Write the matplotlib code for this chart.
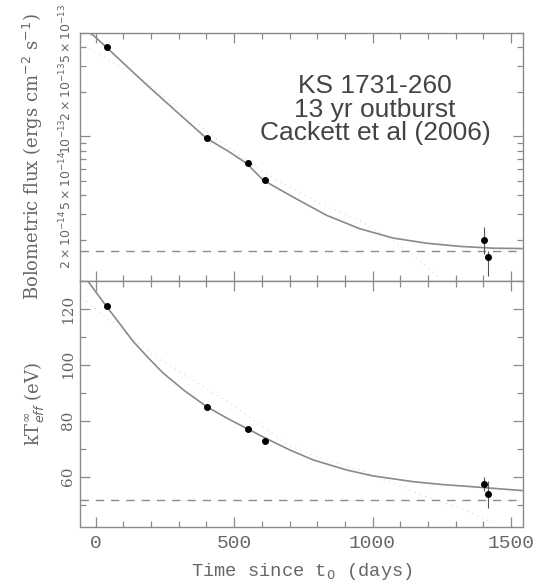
import numpy as np
import matplotlib
matplotlib.use("Agg")
import matplotlib.pyplot as plt
from matplotlib.ticker import FixedLocator, FuncFormatter, MultipleLocator

# observed points (days since t0)
days = [39, 402, 551, 611, 1401, 1418]
flux = [4.03e-13, 9.8e-14, 6.56e-14, 5.1e-14, 1.99e-14, 1.53e-14]
flux_lo = [0, 0, 0, 0, 0.40e-14, 0.40e-14]
flux_hi = [0, 0, 0, 0, 0.44e-14, 0.15e-14]
kt = [120.9, 85.0, 77.0, 72.6, 57.4, 53.7]
kt_err = [0, 0, 0, 0, 2.4, 4.8]

# fitted curves
fit_days_f = [-27, -10, 39, 110, 183, 290, 400, 480, 545, 605, 713, 834, 954,
              1074, 1196, 1316, 1436, 1544]
fit_flux = [5.05e-13, 4.85e-13, 4.0e-13, 3.0e-13, 2.24e-13, 1.48e-13, 9.7e-14,
            7.9e-14, 6.56e-14, 5.05e-14, 3.88e-14, 2.92e-14, 2.37e-14,
            2.05e-14, 1.89e-14, 1.80e-14, 1.75e-14, 1.74e-14]
fit_days_t = [-28, 39, 90, 135, 190, 243, 320, 400, 480, 545, 605, 700, 785,
              906, 1000, 1147, 1250, 1388, 1544]
fit_kt = [129.9, 120.9, 114.3, 108.4, 102.5, 97.1, 90.8, 85.1, 80.6, 77.3,
          74.2, 69.6, 66.0, 62.4, 60.3, 58.2, 57.2, 56.2, 55.0]

dot_days_f = [-40, 200, 400, 600, 810, 954, 1074, 1171, 1243]
dot_flux = [4.1e-13, 2.2e-13, 1.08e-13, 5.8e-14, 3.5e-14, 2.69e-14, 1.97e-14, 1.44e-14, 1.1e-14]
dot_days_t = [-34, 200, 484, 700, 846, 954, 1195, 1316, 1435]
dot_kt = [122.7, 104.0, 86.3, 71.0, 65.4, 62.4, 52.8, 48.8, 43.4]

flux_base = 1.68e-14
kt_base = 51.6

flux_ticks = [2e-14, 5e-14, 2e-13, 5e-13]
flux_labels = [r'$2\times10^{-14}$', r'$5\times10^{-14}$', r'$2\times10^{-13}$', r'$5\times10^{-13}$']

GRAY = '#8a8a8a'
TXT = '#666666'

fig = plt.figure(figsize=(5.33, 5.86), dpi=100)
ax1 = fig.add_axes([0.150, 0.5205, 0.831, 0.4232])
ax2 = fig.add_axes([0.150, 0.1007, 0.831, 0.4198], sharex=ax1)

for ax in (ax1, ax2):
    for s in ax.spines.values():
        s.set_color(GRAY)
        s.set_linewidth(1.0)
    ax.tick_params(which='both', direction='in', top=True, right=True,
                   color=GRAY, labelcolor=TXT)
    ax.tick_params(which='major', length=7, width=0.9)
    ax.tick_params(which='minor', length=4, width=0.9)

# top panel: flux
ax1.plot(dot_days_f, dot_flux, ls=(0, (1, 4)), color='#d2dade', lw=0.8)
ax1.plot(fit_days_f, fit_flux, color=GRAY, lw=1.2)
ax1.axhline(flux_base, color=GRAY, ls=(0, (6, 5)), lw=1.0)
ax1.errorbar(days, flux, yerr=[flux_lo, flux_hi], fmt='o', color='black',
             ms=4, ecolor='#555555', elinewidth=0.8, capsize=0)
ax1.set_yscale('log')
ax1.set_ylim(1.05e-14, 5e-13)
ax1.yaxis.set_major_locator(FixedLocator([1e-13]))
ax1.yaxis.set_major_formatter(FuncFormatter(lambda v, p: r'$10^{-13}$'))
ax1.yaxis.set_minor_locator(FixedLocator([k * 1e-14 for k in range(2, 10)] +
                                         [k * 1e-13 for k in range(2, 6)]))


def minor_lab(v, p):
    for t, l in zip(flux_ticks, flux_labels):
        if abs(v - t) / t < 1e-6:
            return l
    return ''


ax1.yaxis.set_minor_formatter(FuncFormatter(minor_lab))
ax1.tick_params(axis='x', labelbottom=False)
ax1.tick_params(axis='y', which='both', pad=4)
for lab in ax1.get_yticklabels(which='both'):
    lab.set_rotation(90)
    lab.set_va('center')
    lab.set_fontfamily('DejaVu Serif')
    lab.set_fontsize(9)
ax1.set_ylabel(r'Bolometric flux (ergs cm$^{-2}$ s$^{-1}$)', family='DejaVu Serif',
               fontsize=13, color=TXT, labelpad=9)

ax1.text(0.666, 0.69, 'KS 1731-260\n13 yr outburst\nCackett et al (2006)',
         transform=ax1.transAxes, ha='center', va='center', family='Liberation Sans',
         fontsize=19, color='#444444', linespacing=0.98)

# bottom panel: temperature
ax2.plot(dot_days_t, dot_kt, ls=(0, (1, 4)), color='#d2dade', lw=0.8)
ax2.plot(fit_days_t, fit_kt, color=GRAY, lw=1.2)
ax2.axhline(kt_base, color=GRAY, ls=(0, (6, 5)), lw=1.0)
ax2.errorbar(days, kt, yerr=kt_err, fmt='o', color='black',
             ms=4, ecolor='#555555', elinewidth=0.8, capsize=0)
ax2.set_ylim(42, 130)
ax2.yaxis.set_major_locator(MultipleLocator(20))
ax2.yaxis.set_minor_locator(MultipleLocator(10))
ax2.set_xlim(-57, 1543)
ax2.xaxis.set_major_locator(MultipleLocator(500))
ax2.xaxis.set_minor_locator(MultipleLocator(100))
for lab in ax2.get_yticklabels():
    lab.set_rotation(90)
    lab.set_va('center')
    lab.set_fontfamily('DejaVu Serif')
    lab.set_fontsize(11)
for lab in ax2.get_xticklabels():
    lab.set_fontfamily('Liberation Mono')
    lab.set_fontsize(14)
ax2.tick_params(axis='x', pad=6)
ax2.set_ylabel(r'kT$^{\infty}_{eff}$ (eV)', family='DejaVu Serif', fontsize=13,
               color=TXT, labelpad=11)
ax2.set_xlabel(r'Time since t$_0$ (days)', family='Liberation Mono', fontsize=13.5,
               color=TXT, labelpad=6)

fig.savefig('out.png', dpi=100)
